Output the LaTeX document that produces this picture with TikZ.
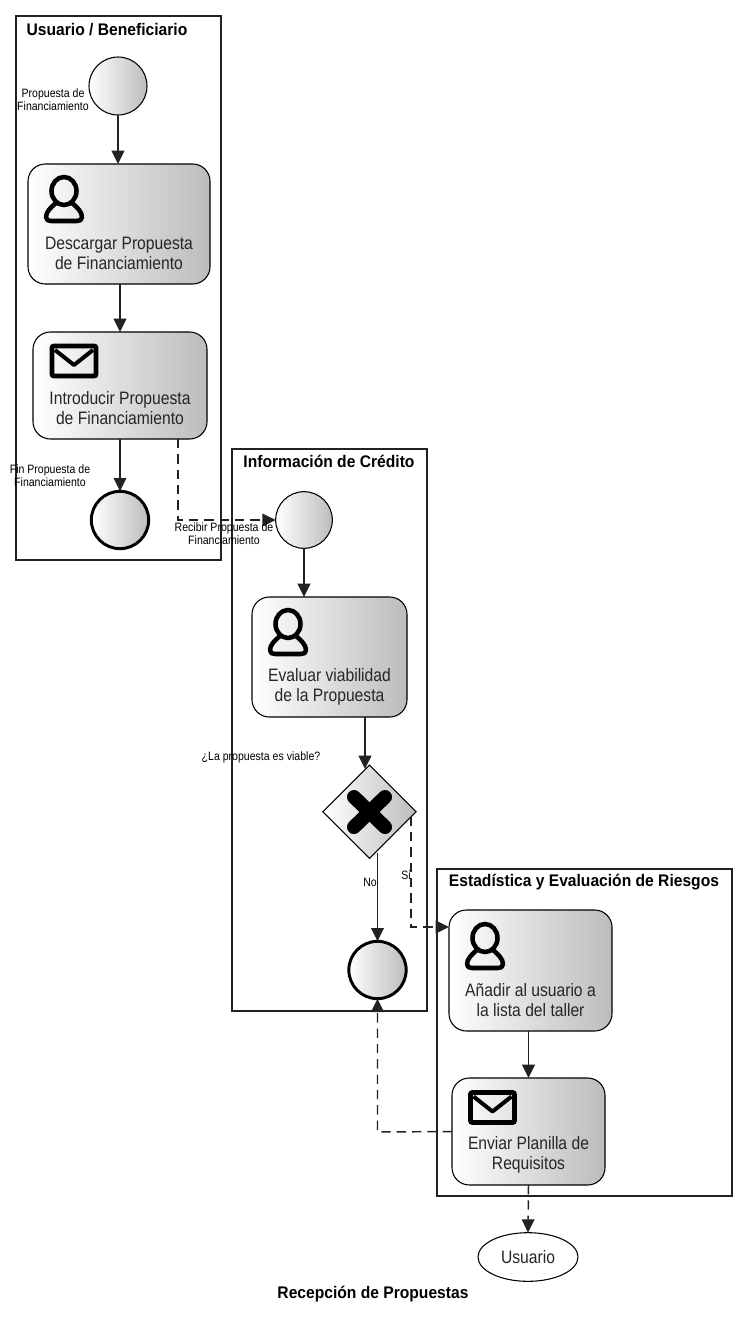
\documentclass[tikz,border=0pt]{standalone}
\usepackage{fontspec}
\setmainfont{Liberation Sans}
\newfontfamily\narrowf[FakeStretch=0.87]{Liberation Sans}
\newfontfamily\titlef[FakeStretch=0.93]{Liberation Sans}
\usetikzlibrary{arrows.meta,shapes.geometric}
\definecolor{ink}{HTML}{222222}
\definecolor{shadeend}{HTML}{BCBCBC}
\tikzset{
  x=0.75pt,y=-0.75pt,
  pool/.style={draw=ink,line width=1pt,fill=white,inner sep=0pt,outer sep=0pt},
  pooltitle/.style={font=\titlef\fontsize{12.6pt}{14pt}\selectfont\bfseries,inner sep=0pt,text=black},
  filled/.style={draw=black,line width=0.8pt,left color=white,right color=shadeend,inner sep=0pt,outer sep=0pt},
  task/.style={filled,rectangle,rounded corners=13pt},
  startev/.style={filled,circle},
  endev/.style={filled,circle,line width=2.2pt},
  gate/.style={filled,diamond,aspect=1},
  tasktext/.style={font=\narrowf\fontsize{13.5pt}{15pt}\selectfont,align=center,inner sep=0pt,text=black!85},
  small/.style={font=\narrowf\fontsize{9.1pt}{10.1pt}\selectfont,align=center,inner sep=0pt,text=black},
  flow/.style={draw=ink,line width=1.2pt,-{Triangle[length=10pt,width=9.5pt]}},
  msg/.style={flow,line width=1.1pt,dash pattern=on 7pt off 4.5pt},
  personicon/.pic={
    \draw[line width=3.4pt,black] (0,-9) ellipse[x radius=12.5,y radius=14];
    \draw[line width=3.4pt,black,line join=round] (-8,3) .. controls (-13,7) and (-18,12) .. (-18,17)
      .. controls (-18,20) and (-16,21) .. (-13,21) -- (13,21)
      .. controls (16,21) and (18,20) .. (18,17) .. controls (18,12) and (13,7) .. (8,3);
  },
  envicon/.pic={
    \draw[line width=3.6pt,black,rounded corners=1.5pt] (-22,-15) rectangle (22,15);
    \draw[line width=3pt,black,line join=round] (-19,-11) -- (0,4) -- (19,-11);
  },
}
\begin{document}
\begin{tikzpicture}
\useasboundingbox[fill=white] (0,0) rectangle (748,1317);
% pools
\node[pool,minimum width=153.75pt,minimum height=408pt] (pool1) at (118.5,288) {};
\node[pool,minimum width=146.25pt,minimum height=421.5pt] (pool2) at (329.5,730) {};
\node[pool,minimum width=221.25pt,minimum height=245.25pt] (pool3) at (584.5,1032.5) {};
\node[pooltitle] (t1) at (107,29.5) {Usuario / Beneficiario};
\node[pooltitle] (t2) at (329,461.5) {Información de Crédito};
\node[pooltitle] (t3) at (584,882.5) {Estadística y Evaluación de Riesgos};
% events and tasks
\node[startev,minimum size=43.5pt] (start1) at (118,86) {};
\node[task,minimum width=136.5pt,minimum height=90pt] (task1) at (119,224) {};
\node[task,minimum width=130.5pt,minimum height=80.25pt] (task2) at (120,385.5) {};
\node[endev,minimum size=43pt] (end1) at (120,520) {};
\node[startev,minimum size=42.5pt] (start2) at (304,520) {};
\node[task,minimum width=116.25pt,minimum height=90pt] (task3) at (329.5,657) {};
\node[gate,minimum width=70pt,minimum height=70pt] (gw) at (369.5,811.7) {};
\node[endev,minimum size=43pt] (end2) at (377.5,970) {};
\node[task,minimum width=122.25pt,minimum height=90.75pt] (task4) at (530.5,970.5) {};
\node[task,minimum width=114.75pt,minimum height=80.25pt] (task5) at (528.5,1131.5) {};
\node[draw=black,line width=0.8pt,fill=white,ellipse,minimum width=75pt,minimum height=36.5pt,inner sep=0pt,outer sep=0pt,font=\narrowf\fontsize{13.5pt}{15pt}\selectfont,text=black!85] (user) at (528,1257) {Usuario};
% icons
\pic at (64,200) {personicon};
\pic at (74,361) {envicon};
\pic at (288,633) {personicon};
\pic at (485,947) {personicon};
\pic at (492.5,1107.5) {envicon};
\draw[black,line width=10.5pt,line cap=round] (354,797) -- (385,827) (385,797) -- (354,827);
% task texts
\node[tasktext] (l1) at (119,253) {Descargar Propuesta\\de Financiamiento};
\node[tasktext] (l2) at (120,408) {Introducir Propuesta\\de Financiamiento};
\node[tasktext] (l3) at (329.5,687) {Evaluar viabilidad\\de la Propuesta};
\node[tasktext] (l4) at (530.5,1000) {Añadir al usuario a\\la lista del taller};
\node[tasktext] (l5) at (528.5,1155) {Enviar Planilla de\\Requisitos};
% connectors
\coordinate (d1) at (178,520);
\coordinate (d2) at (411,927);
\coordinate (d3) at (377.5,1132);
\draw[flow] (start1.south) -- (start1.south |- task1.north);
\draw[flow] (task1.south -| task2.north) -- (task2.north);
\draw[flow] (task2.south) -- (end1.north);
\draw[msg] ([shift={(58,0)}]task2.south) -- (d1) -- (start2.west);
\draw[flow] (start2.south) -- (start2.south |- task3.north);
\draw[flow] ([shift={(35.5,0)}]task3.south) -- ([shift={(-4.5,4)}]gw.north);
\draw[flow] ([shift={(8,41)}]gw.center) -- (end2.north);
\draw[msg] ([shift={(41.5,5)}]gw.center) -- (d2) -- (d2 -| task4.west);
\draw[flow] (task4.south -| task5.north) -- (task5.north);
\draw[msg] (task5.west) -- (d3) -- (end2.south);
\draw[msg] (task5.south) -- (user.north);
% small labels
\node[small] (s1) at (53,99.5) {Propuesta de\\Financiamiento};
\node[small] (s2) at (50,475.5) {Fin Propuesta de\\Financiamiento};
\node[small] (s3) at (224,533.5) {Recibir Propuesta de\\Financiamiento};
\node[small] (s4) at (261,757) {¿La propuesta es viable?};
\node[small] (s5) at (370,882) {No};
\node[small] (s6) at (406,875) {Si};
\node[pooltitle] (caption) at (373,1294.5) {Recepción de Propuestas};
\end{tikzpicture}
\end{document}
